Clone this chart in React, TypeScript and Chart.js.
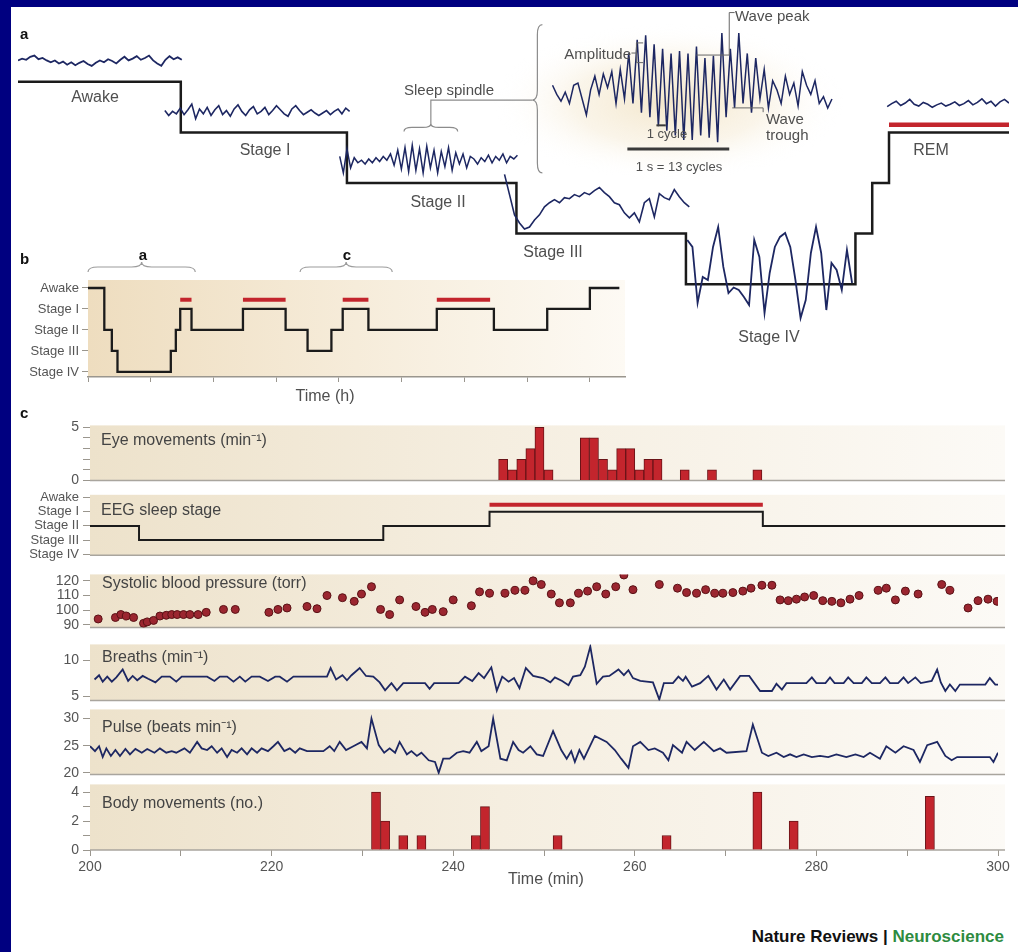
import React, { useEffect, useRef } from "react";
import { Chart, registerables } from "chart.js";

Chart.register(...registerables);

const FONT = "'Liberation Sans', Arial, Helvetica, sans-serif";
Chart.defaults.font.family = FONT;

const TRACE = "#1d2762";
const RED = "#c3252d";
const RED_EDGE = "#6a1418";
const LINE_BLACK = "#1b1b1b";
const SEP = "#a9a59e";
const TICK_TXT = "#555555";

/* ---------------- panel a : hypnogram with EEG traces (arbitrary time units) ---------------- */
const aStepStarts = [0, 9.7, 19.6, 29.7, 39.8, 49.9, 50.9, 51.9, 59.05];
const aStepLevels = [0, 1, 2, 3, 4, 3, 2, 1, 1];
const aRemSpan = [51.9, 59.05];
const aRemLevel = 0.85;

const awakeTrace = [0.2, 0.5, 0.3, 0.8, 1.0, 0.4, 0.6, 0.2, -0.1, 0.2, -0.3, 0.0, -0.5, -0.1, -0.6, -0.2, 0.1, -0.4, -0.7, -0.2, 0.2, -0.1, 0.4, 0.1, -0.3, 0.3, 0.8, 0.2, 0.5, 0.9, 0.3, 0.6, 1.0, 0.2, -0.3, -0.7, 0.3, 0.9, 0.4, 0.7, 0.3];
const stage1Trace = [0.2, -0.4, 0.1, -0.2, 0.5, -0.3, 0.3, 1.0, -0.8, 0.4, -0.2, 0.6, -0.4, 0.3, 0.8, -0.3, 0.2, -0.5, 0.4, 0.9, 0.1, -0.4, 0.3, 0.7, -0.2, 0.1, 0.6, -0.3, 0.2, 0.8, 0.3, -0.2, -0.5, 0.4, 0.8, 0.2, -0.3, 0.0, 0.3, -0.1, -0.4, -0.1, 0.2, -0.3, 0.1, 0.4, -0.2, 0.5, 0.1];
const stage2Trace = [0.3, -1.0, 0.9, -0.6, 0.2, -0.2, 0.0, -0.3, 0.1, -0.2, 0.2, -0.1, 0.3, 0.0, 0.5, -0.4, 0.8, -0.7, 1.0, -0.9, 1.2, -0.8, 0.9, -1.0, 1.1, -0.6, 0.8, -1.0, 0.7, -0.5, 1.0, -0.8, 0.6, -0.3, 0.5, -0.6, 0.3, 0.1, -0.3, 0.2, -0.1, 0.4, -0.2, 0.3, 0.0, 0.5, -0.2, 0.3, 0.1, 0.4];
const stage3Trace = [1.5, 0.5, -0.5, -0.9, -1.2, -1.1, -0.75, -0.5, -0.1, 0.1, 0.25, 0.1, 0.35, 0.3, 0.5, 0.4, 0.6, 0.5, 0.7, 0.85, 0.6, 0.4, 0.1, 0.0, -0.4, -0.65, -0.4, -0.85, 0.1, 0.3, -0.6, 0.55, 0.35, 0.25, 0.75, 0.4, 0.1, -0.1];
const stage4Trace = [0.6, 0.46, -0.66, -0.14, -0.2, 0.46, 0.86, 0.06, -0.46, -0.35, -0.4, -0.54, -0.7, 0.6, 0.26, -0.86, -0.06, 0.46, 0.66, 0.74, 0.46, -0.2, -0.96, -0.6, 0.34, 0.86, 0.34, -0.8, 0.14, 0.0, -0.4, 0.4, -0.26];
const remTrace = [-0.3, 0.2, 0.6, -0.1, 0.3, 0.9, 0.1, -0.2, 0.4, 0.1, -0.4, 0.0, 0.3, -0.2, 0.1, 0.5, -0.1, 0.2, 0.7, 0.0, 0.4, 1.0, 0.2, 0.6, -0.2, 0.5, 0.9, 0.3];
const spindleTrace = [0.1, -0.1, -0.25, -0.05, -0.3, 0.1, 0.15, -0.2, -0.55, 0.0, 0.3, -0.1, 0.35, 0.05, 0.4, -0.3, 0.45, -0.2, 0.8, -0.3, 1.1, -0.5, 1.2, -0.6, 1.0, -0.8, 0.9, -0.9, 0.8, -1.0, 0.85, -1.1, 0.8, -1.1, 0.95, -1.0, 0.7, -1.05, 0.75, -1.15, 1.25, -0.6, 0.9, -0.4, 1.25, -0.3, 0.8, -0.5, 0.7, -0.2, 0.45, -0.4, 0.2, 0.0, -0.3, 0.3, -0.1, 0.15, -0.35, 0.4, 0.1, -0.1, 0.2, -0.3, -0.15, -0.4, -0.2];

/* ---------------- panel b : whole-night hypnogram (hours) ---------------- */
const bStepStarts = [0, 0.26, 0.38, 0.47, 1.32, 1.4, 1.47, 1.65, 2.47, 3.15, 3.5, 3.88, 4.06, 4.47, 5.56, 6.47, 7.32, 8.0, 8.47];
const bStepLevels = [0, 2, 3, 4, 3, 2, 1, 2, 1, 2, 3, 2, 1, 2, 1, 2, 1, 0, 0];
const bRemStarts = [1.47, 2.47, 4.06, 5.56];
const bRemEnds = [1.65, 3.15, 4.47, 6.41];
const bRemLevel = 0.56;
const bHourTicks = [0, 1, 2, 3, 4, 5, 6, 7, 8];

/* ---------------- panel c : 200-300 min ---------------- */
const stageNames = ["Awake", "Stage I", "Stage II", "Stage III", "Stage IV"];
const minuteTicks = [200, 210, 220, 230, 240, 250, 260, 270, 280, 290, 300];

const eyeTimes = [245.5, 246.5, 247.5, 248.5, 249.5, 250.5, 254.5, 255.5, 256.5, 257.5, 258.5, 259.5, 260.5, 261.5, 262.5, 265.5, 268.5, 273.5];
const eyeCounts = [2, 1, 2, 3, 5, 1, 4, 4, 2, 1, 3, 3, 1, 2, 2, 1, 1, 1];
const eyeTicks = [0, 1, 2, 3, 4, 5];

const eegStarts = [200, 205.4, 232.3, 244.0, 274.1, 300.8];
const eegLevels = [2, 3, 2, 1, 2, 2];
const eegRemSpan = [244.0, 274.1];
const eegRemLevel = 0.5;
const eegTicks = [0, 1, 2, 3, 4];

const bpSeries = [
  [200.9, 94], [202.8, 95], [203.4, 97], [204.0, 96], [204.8, 95], [205.9, 91], [206.3, 92], [207.0, 93], [207.7, 96],
  [208.4, 96.5], [209.0, 97], [209.6, 97], [210.3, 97], [211.0, 97], [211.9, 97], [212.8, 98.5], [214.7, 100.5], [216.0, 100.5],
  [219.7, 98.5], [220.7, 100.5], [221.7, 101.5], [223.9, 102.5], [225.0, 101], [226.1, 110], [227.8, 108.5], [229.1, 106],
  [229.9, 111], [231.0, 116], [232.0, 100.5], [233.0, 97], [234.1, 107], [235.9, 102.5], [236.9, 98.5], [237.7, 100.5],
  [238.9, 99], [240.0, 107], [242.0, 103], [242.9, 112.5], [244.0, 111.5], [245.7, 111.5], [246.8, 113.5], [247.9, 113.5],
  [248.8, 120], [249.7, 117.5], [250.8, 111], [251.7, 105], [252.9, 105], [253.8, 111.5], [254.8, 113], [255.8, 116],
  [256.8, 111], [257.9, 116], [258.8, 124], [259.8, 114], [262.7, 117.5], [264.7, 115], [265.7, 112], [266.8, 111.5],
  [267.8, 114], [268.8, 111.5], [269.7, 111.5], [270.8, 112], [271.9, 113], [272.8, 115], [274.0, 117], [275.1, 117],
  [276.0, 107], [276.9, 106.5], [277.8, 107.5], [278.7, 109], [279.7, 110], [280.7, 106.5], [281.7, 106], [282.7, 105],
  [283.7, 107.5], [284.7, 110], [286.8, 113.5], [287.7, 115], [288.7, 107], [289.8, 113], [291.2, 111], [293.8, 117.5],
  [294.7, 113.5], [296.7, 101.5], [297.8, 106.5], [298.9, 107.5], [299.9, 106],
];
const bpTicks = [90, 100, 110, 120];

const breathSeries = [
  [200.5, 7.3], [201.0, 7.9], [201.4, 7.0], [201.9, 7.7], [202.4, 7.0], [202.9, 7.6], [203.6, 8.7], [204.2, 7.1], [204.7, 7.8],
  [205.2, 7.2], [205.8, 7.8], [206.4, 7.4], [207.2, 6.9], [207.9, 7.7], [208.8, 7.7], [209.5, 7.0], [210.1, 7.7], [212.9, 7.7],
  [213.7, 7.1], [214.3, 7.7], [215.1, 7.7], [215.8, 7.0], [216.5, 7.7], [217.1, 7.0], [217.8, 7.7], [218.7, 7.7], [219.6, 7.1],
  [220.4, 7.7], [220.9, 7.7], [221.7, 7.0], [222.4, 7.7], [226.1, 7.7], [226.5, 8.9], [227.1, 7.3], [227.8, 7.9], [228.3, 7.2],
  [228.8, 7.9], [229.7, 8.9], [230.4, 7.8], [231.2, 7.7], [231.9, 6.9], [232.5, 5.8], [233.2, 6.8], [233.8, 5.8], [234.5, 6.8],
  [236.9, 6.8], [237.4, 6.0], [237.9, 6.8], [240.6, 6.8], [241.3, 7.7], [242.1, 7.1], [242.8, 8.2], [243.4, 7.5], [244.2, 9.0],
  [244.8, 5.75], [245.4, 7.7], [246.1, 7.0], [246.7, 7.5], [247.3, 6.1], [248.0, 8.9], [248.8, 7.8], [249.9, 7.5], [250.7, 6.9],
  [251.2, 7.6], [252.0, 7.1], [252.7, 6.5], [253.2, 7.7], [254.0, 7.9], [254.5, 9.1], [255.1, 11.9], [255.8, 6.7], [256.5, 7.7],
  [257.2, 7.8], [258.2, 8.7], [258.8, 7.9], [259.3, 8.6], [259.8, 7.5], [260.6, 7.1], [261.3, 7.0], [262.0, 6.9], [262.7, 4.5],
  [263.2, 6.8], [264.2, 6.8], [264.8, 7.7], [265.3, 7.1], [265.6, 7.7], [266.3, 6.3], [267.2, 6.8], [268.1, 7.8], [269.0, 5.9],
  [269.8, 7.3], [270.5, 5.9], [271.6, 7.8], [272.6, 7.8], [273.8, 5.7], [275.1, 5.7], [275.6, 6.7], [276.2, 5.9], [276.7, 6.8],
  [278.9, 6.8], [279.5, 7.6], [280.0, 6.8], [281.0, 6.8], [281.5, 7.6], [282.0, 6.8], [283.0, 6.8], [283.5, 7.6], [284.1, 6.8],
  [285.0, 6.8], [285.5, 7.6], [286.1, 6.8], [287.0, 6.8], [287.6, 7.6], [288.1, 6.8], [289.0, 6.8], [289.6, 7.6], [290.1, 6.8],
  [290.9, 7.6], [291.5, 6.8], [292.7, 7.1], [293.3, 8.7], [293.7, 6.9], [294.2, 5.7], [294.7, 6.6], [295.3, 5.7], [295.8, 6.6],
  [298.6, 6.6], [299.1, 7.5], [299.7, 6.6], [300.0, 6.6],
];
const breathTicks = [5, 10];

const pulseSeries = [
  [200.0, 24.9], [200.55, 24.0], [201.0, 24.9], [201.4, 22.9], [201.8, 24.5], [202.3, 23.1], [202.8, 24.2], [203.3, 23.1],
  [203.9, 24.4], [204.4, 23.4], [205.0, 24.4], [205.7, 23.7], [206.3, 24.4], [207.1, 23.7], [207.7, 24.5], [208.4, 23.7],
  [209.0, 24.0], [209.5, 23.7], [210.4, 24.5], [211.0, 23.7], [211.8, 25.7], [212.3, 24.5], [212.9, 24.2], [213.4, 24.9],
  [214.0, 23.7], [214.5, 24.5], [215.1, 22.9], [215.6, 24.2], [216.2, 23.7], [216.7, 24.5], [217.3, 23.4], [217.8, 24.5],
  [218.4, 23.7], [218.9, 24.5], [219.6, 24.0], [220.2, 24.9], [220.7, 25.7], [221.4, 24.0], [222.0, 24.5], [222.6, 23.7],
  [223.1, 24.5], [223.9, 24.0], [225.7, 24.0], [226.4, 24.9], [226.9, 24.0], [227.5, 25.7], [228.2, 24.2], [229.0, 24.9],
  [229.9, 25.7], [230.5, 24.5], [231.0, 30.0], [231.8, 25.1], [232.4, 23.7], [233.0, 24.5], [233.6, 23.7], [234.1, 25.7],
  [234.9, 23.4], [235.4, 24.0], [236.0, 23.1], [236.5, 23.7], [237.3, 22.3], [238.0, 22.0], [238.4, 20.0], [238.9, 22.6],
  [239.6, 22.6], [240.4, 23.7], [241.1, 24.0], [241.8, 23.7], [242.6, 25.7], [243.1, 24.0], [243.9, 24.9], [244.4, 30.0],
  [245.2, 22.6], [245.9, 22.3], [246.6, 25.7], [247.2, 24.2], [247.7, 23.7], [248.5, 24.9], [249.2, 23.4], [249.9, 23.1],
  [251.0, 27.7], [251.9, 24.2], [252.5, 22.6], [253.0, 24.0], [253.4, 22.0], [253.9, 24.2], [254.4, 22.6], [255.6, 26.8],
  [256.9, 25.7], [257.8, 24.2], [258.5, 22.6], [259.3, 20.9], [259.8, 24.9], [260.6, 25.7], [261.5, 24.2], [262.2, 24.5],
  [263.1, 23.7], [263.7, 22.3], [264.2, 25.1], [265.2, 23.7], [265.7, 25.7], [266.6, 24.2], [267.6, 25.7], [268.7, 24.0],
  [269.4, 24.5], [270.1, 23.7], [272.3, 24.0], [273.0, 28.9], [274.0, 23.7], [274.7, 23.1], [275.6, 23.7], [276.4, 22.9],
  [277.1, 23.4], [277.8, 22.9], [278.6, 23.4], [279.5, 22.9], [280.4, 23.1], [281.3, 22.9], [282.2, 23.4], [283.3, 22.9],
  [284.3, 23.4], [285.2, 22.9], [285.9, 23.7], [287.0, 22.6], [287.7, 24.9], [288.7, 23.7], [289.6, 24.9], [290.7, 24.2],
  [291.4, 22.0], [292.2, 25.1], [293.3, 25.7], [294.2, 23.1], [294.9, 22.3], [295.5, 22.9], [299.1, 22.9], [299.5, 22.0],
  [300.0, 23.7],
];
const pulseTicks = [20, 25, 30];

const bodyTimes = [231.5, 232.5, 234.5, 236.5, 242.5, 243.5, 251.5, 263.5, 273.5, 277.5, 292.5];
const bodyCounts = [4, 2, 1, 1, 1, 3, 1, 1, 4, 2, 3.7];
const bodyTicks = [0, 1, 2, 3, 4];

/* ---------------- helpers ---------------- */
function hBrace(ctx: any, x1: number, x2: number, y: number, h: number) {
  const xm = (x1 + x2) / 2;
  const r = Math.min(h, (x2 - x1) / 4);
  ctx.beginPath();
  ctx.moveTo(x1, y);
  ctx.quadraticCurveTo(x1, y - h / 2, x1 + r, y - h / 2);
  ctx.lineTo(xm - r, y - h / 2);
  ctx.quadraticCurveTo(xm, y - h / 2, xm, y - h);
  ctx.quadraticCurveTo(xm, y - h / 2, xm + r, y - h / 2);
  ctx.lineTo(x2 - r, y - h / 2);
  ctx.quadraticCurveTo(x2, y - h / 2, x2, y);
  ctx.stroke();
}

function vBrace(ctx: any, xTip: number, w: number, y1: number, y2: number, yTip: number) {
  const xs = xTip + w / 2;
  const xa = xTip + w;
  ctx.beginPath();
  ctx.moveTo(xa, y1);
  ctx.quadraticCurveTo(xs, y1, xs, y1 + w);
  ctx.lineTo(xs, yTip - w);
  ctx.quadraticCurveTo(xs, yTip, xTip, yTip);
  ctx.quadraticCurveTo(xs, yTip, xs, yTip + w);
  ctx.lineTo(xs, y2 - w);
  ctx.quadraticCurveTo(xs, y2, xa, y2);
  ctx.stroke();
}

function poly(ctx: any, pts: number[][]) {
  ctx.beginPath();
  pts.forEach((p, i) => (i === 0 ? ctx.moveTo(p[0], p[1]) : ctx.lineTo(p[0], p[1])));
  ctx.stroke();
}

const baseOptions = {
  animation: false,
  responsive: false,
  events: [],
  plugins: { legend: { display: false }, tooltip: { enabled: false } },
};

/* ---------------- panel a config ---------------- */
const panelAPlugin = {
  id: "panelADecor",
  beforeDatasetsDraw(chart: any) {
    const { ctx } = chart;
    const X = (u: number) => chart.scales.x.getPixelForValue(u);
    const Y = (l: number) => chart.scales.y.getPixelForValue(l);
    ctx.save();
    ctx.beginPath();
    ctx.rect(12, 9, chart.width - 12, chart.height - 9);
    ctx.clip();
    ctx.translate(X(38.8), Y(0.4));
    ctx.scale(1.75, 0.78);
    const g = ctx.createRadialGradient(0, 0, 0, 0, 0, 100);
    g.addColorStop(0, "rgba(242,228,198,0.9)");
    g.addColorStop(0.55, "rgba(247,238,219,0.6)");
    g.addColorStop(1, "rgba(255,255,255,0)");
    ctx.fillStyle = g;
    ctx.beginPath();
    ctx.arc(0, 0, 100, 0, Math.PI * 2);
    ctx.fill();
    ctx.restore();
  },
  afterDatasetsDraw(chart: any) {
    const { ctx } = chart;
    const X = (u: number) => chart.scales.x.getPixelForValue(u);
    const Y = (l: number) => chart.scales.y.getPixelForValue(l);
    ctx.save();
    ctx.strokeStyle = "#8c8c8c";
    ctx.lineWidth = 1.2;
    hBrace(ctx, X(23.0), X(26.2), Y(0.98), 8);
    poly(ctx, [[X(24.6), Y(0.83)], [X(24.6), Y(0.36)], [X(30.65), Y(0.36)]]);
    vBrace(ctx, X(30.65), 10, Y(-1.13), Y(1.8), Y(0.36));
    ctx.strokeStyle = "#666";
    ctx.lineWidth = 1;
    poly(ctx, [[X(36.55), Y(-0.57)], [X(36.85), Y(-0.57)]]);
    poly(ctx, [[X(37.25), Y(-0.77)], [X(36.85), Y(-0.77)], [X(36.85), Y(-0.38)], [X(37.25), Y(-0.38)]]);
    poly(ctx, [[X(40.42), Y(-0.53)], [X(42.38), Y(-0.53)], [X(42.38), Y(-1.37)], [X(42.7), Y(-1.37)]]);
    poly(ctx, [[X(42.56), Y(0.515)], [X(44.4), Y(0.515)], [X(44.4), Y(0.6)]]);
    ctx.strokeStyle = "#3a3a3a";
    ctx.lineWidth = 2;
    poly(ctx, [[X(38.04), Y(0.86)], [X(38.6), Y(0.86)]]);
    ctx.lineWidth = 3;
    poly(ctx, [[X(36.31), Y(1.33)], [X(42.38), Y(1.33)]]);
    ctx.restore();
  },
};

function traceDataset(values: number[], start: number, end: number, center: number, amp: number, width: number) {
  return {
    data: values.map((v, i) => ({ x: start + ((end - start) * i) / (values.length - 1), y: center - v * amp })),
    borderColor: TRACE,
    borderWidth: width,
    pointRadius: 0,
    tension: 0,
  };
}

function panelAConfig() {
  return {
    type: "line",
    data: {
      datasets: [
        traceDataset(awakeTrace, 0, 9.76, -0.4, 0.12, 1.8),
        traceDataset(stage1Trace, 8.75, 19.76, 0.6, 0.16, 1.6),
        traceDataset(stage2Trace, 19.17, 29.76, 1.55, 0.25, 1.5),
        traceDataset(stage3Trace, 28.99, 40.0, 2.43, 0.4, 1.6),
        traceDataset(stage4Trace, 39.88, 49.7, 3.72, 0.99, 1.8),
        traceDataset(remTrace, 51.79, 59.05, 0.455, 0.12, 1.6),
        traceDataset(spindleTrace, 31.85, 48.5, 0.158, 0.9, 1.5),
        {
          data: aStepStarts.map((x, i) => ({ x, y: aStepLevels[i] })),
          stepped: true,
          borderColor: LINE_BLACK,
          borderWidth: 2.5,
          pointRadius: 0,
        },
        {
          data: [{ x: aRemSpan[0], y: aRemLevel }, { x: aRemSpan[1], y: aRemLevel }],
          borderColor: RED,
          borderWidth: 4.5,
          pointRadius: 0,
        },
      ],
    },
    options: {
      ...baseOptions,
      layout: { padding: { left: 18, right: 9, top: 6, bottom: 0 } },
      scales: {
        x: { type: "linear", display: false, min: 0, max: 59.05 },
        y: { type: "linear", display: false, min: -1.5, max: 5.5, reverse: true },
      },
    },
    plugins: [panelAPlugin],
  };
}

/* ---------------- panel b config ---------------- */
const panelBPlugin = {
  id: "panelBDecor",
  beforeDraw(chart: any) {
    const { ctx, chartArea: a } = chart;
    const g = ctx.createLinearGradient(a.left, 0, a.right, 0);
    g.addColorStop(0, "rgb(238,221,191)");
    g.addColorStop(0.5, "rgb(246,236,218)");
    g.addColorStop(1, "rgb(253,250,244)");
    ctx.save();
    ctx.fillStyle = g;
    ctx.fillRect(a.left, a.top, a.right - a.left, a.bottom - a.top);
    ctx.restore();
  },
  afterDraw(chart: any) {
    const { ctx, chartArea: a } = chart;
    const X = (u: number) => chart.scales.x.getPixelForValue(u);
    ctx.save();
    ctx.strokeStyle = "#9c9c9c";
    ctx.lineWidth = 1.2;
    hBrace(ctx, X(0.0), X(1.71), a.top - 8, 10);
    hBrace(ctx, X(3.38), X(4.85), a.top - 8, 10);
    ctx.restore();
  },
};

function panelBConfig() {
  const remSets = bRemStarts.map((s, i) => ({
    data: [{ x: s, y: bRemLevel }, { x: bRemEnds[i], y: bRemLevel }],
    borderColor: RED,
    borderWidth: 4,
    pointRadius: 0,
  }));
  return {
    type: "line",
    data: {
      datasets: [
        {
          data: bStepStarts.map((x, i) => ({ x, y: bStepLevels[i] })),
          stepped: true,
          borderColor: LINE_BLACK,
          borderWidth: 2.3,
          pointRadius: 0,
        },
        ...remSets,
      ],
    },
    options: {
      ...baseOptions,
      layout: { padding: { left: 0, right: 15, top: 30, bottom: 0 } },
      scales: {
        x: {
          type: "linear", min: 0, max: 8.56, bounds: "data",
          afterFit: (s: any) => { s.height = 23; },
          afterBuildTicks: (s: any) => { s.ticks = bHourTicks.map((v) => ({ value: v })); },
          ticks: { display: false },
          grid: { display: true, drawOnChartArea: false, drawTicks: true, tickLength: 5, color: "#9a968e" },
          border: { display: true, color: "#9a968e", width: 1.5 },
        },
        y: {
          type: "linear", min: -0.38, max: 4.24, reverse: true, bounds: "data",
          afterFit: (s: any) => { s.width = 88; },
          afterBuildTicks: (s: any) => { s.ticks = eegTicks.map((v) => ({ value: v })); },
          ticks: { callback: (v: any) => stageNames[Math.round(v)], autoSkip: false, color: TICK_TXT, font: { size: 13 }, padding: 3 },
          grid: { display: true, drawOnChartArea: false, drawTicks: true, tickLength: 6, color: "#9a968e" },
          border: { display: false },
        },
      },
    },
    plugins: [panelBPlugin],
  };
}

/* ---------------- panel c strips ---------------- */
const stripBg = {
  id: "stripBg",
  beforeDraw(chart: any) {
    const { ctx, chartArea: a } = chart;
    const right = a.right + 7;
    const g = ctx.createLinearGradient(a.left, 0, right, 0);
    g.addColorStop(0, "rgb(237,226,203)");
    g.addColorStop(0.45, "rgb(245,238,224)");
    g.addColorStop(1, "rgb(252,250,246)");
    ctx.save();
    ctx.fillStyle = g;
    ctx.fillRect(a.left, a.top, right - a.left, a.bottom - a.top);
    ctx.restore();
  },
  beforeDatasetsDraw(chart: any) {
    const { ctx, chartArea: a } = chart;
    ctx.save();
    ctx.strokeStyle = SEP;
    ctx.lineWidth = 1.5;
    ctx.beginPath();
    ctx.moveTo(a.left, a.bottom);
    ctx.lineTo(a.right + 7, a.bottom);
    ctx.stroke();
    ctx.restore();
  },
};

function stripConfig(s: any) {
  const xScale: any = {
    type: "linear", min: 200, max: 300, offset: false, bounds: "data", display: !!s.xAxis,
    afterBuildTicks: (sc: any) => { sc.ticks = minuteTicks.map((v) => ({ value: v })); },
    ticks: { callback: (v: any) => (v % 20 === 0 ? String(v) : ""), autoSkip: false, maxRotation: 0, color: TICK_TXT, font: { size: 14 }, padding: 3 },
    grid: { display: true, drawOnChartArea: false, drawTicks: true, tickLength: 6, color: "#9a968e", offset: false },
    border: { display: false },
  };
  if (s.xAxis) xScale.afterFit = (sc: any) => { sc.height = 30; };
  return {
    type: s.type,
    data: { datasets: s.datasets },
    options: {
      ...baseOptions,
      layout: { padding: { left: 0, right: 20, top: s.padTop, bottom: s.padBottom } },
      scales: {
        x: xScale,
        y: {
          type: "linear", min: s.yMin, max: s.yMax, reverse: !!s.reverse, bounds: "data",
          afterFit: (sc: any) => { sc.width = 90; },
          afterBuildTicks: (sc: any) => { sc.ticks = s.yTicks.map((v: number) => ({ value: v })); },
          ticks: { callback: (v: any) => s.yLabel(v), autoSkip: false, color: TICK_TXT, font: { size: s.yFont || 14 }, padding: 4 },
          grid: { display: true, drawOnChartArea: false, drawTicks: true, tickLength: 7, color: "#9a968e" },
          border: { display: false },
        },
      },
    },
    plugins: [stripBg],
  };
}

const barStyle = {
  backgroundColor: RED,
  borderColor: RED_EDGE,
  borderWidth: 1,
  barPercentage: 1,
  categoryPercentage: 1,
};

const strips = [
  {
    key: "eye", top: 413, height: 80, padTop: 10, padBottom: 10, type: "bar",
    yMin: 0, yMax: 5.17, yTicks: eyeTicks, yLabel: (v: number) => (v === 0 || v === 5 ? String(v) : ""),
    datasets: [{ data: eyeTimes.map((t, i) => ({ x: t, y: eyeCounts[i] })), ...barStyle }],
  },
  {
    key: "eeg", top: 483, height: 84, padTop: 10, padBottom: 10, type: "line", reverse: true, yFont: 13,
    yMin: -0.2, yMax: 4.07, yTicks: eegTicks, yLabel: (v: number) => stageNames[Math.round(v)],
    datasets: [
      { data: eegStarts.map((x, i) => ({ x, y: eegLevels[i] })), stepped: true, borderColor: LINE_BLACK, borderWidth: 2, pointRadius: 0, clip: 10 },
      { data: [{ x: eegRemSpan[0], y: eegRemLevel }, { x: eegRemSpan[1], y: eegRemLevel }], borderColor: RED, borderWidth: 4, pointRadius: 0 },
    ],
  },
  {
    key: "bp", top: 562, height: 78, padTop: 10, padBottom: 10, type: "scatter",
    yMin: 88.1, yMax: 124.4, yTicks: bpTicks, yLabel: (v: number) => String(v),
    datasets: [{ data: bpSeries.map((p) => ({ x: p[0], y: p[1] })), pointRadius: 4, backgroundColor: "#9b2630", borderColor: "#5a1216", borderWidth: 1 }],
  },
  {
    key: "breaths", top: 632, height: 81, padTop: 10, padBottom: 10, type: "line",
    yMin: 4.36, yMax: 12.2, yTicks: breathTicks, yLabel: (v: number) => String(v),
    datasets: [{ data: breathSeries.map((p) => ({ x: p[0], y: p[1] })), borderColor: TRACE, borderWidth: 1.8, pointRadius: 0, tension: 0 }],
  },
  {
    key: "pulse", top: 697, height: 90, padTop: 10, padBottom: 10, type: "line",
    yMin: 19.66, yMax: 31.7, yTicks: pulseTicks, yLabel: (v: number) => String(v),
    datasets: [{ data: pulseSeries.map((p) => ({ x: p[0], y: p[1] })), borderColor: TRACE, borderWidth: 1.8, pointRadius: 0, tension: 0 }],
  },
  {
    key: "body", top: 772, height: 108, padTop: 10, padBottom: 0, type: "bar", xAxis: true,
    yMin: 0, yMax: 4.53, yTicks: bodyTicks, yLabel: (v: number) => (v % 2 === 0 ? String(v) : ""),
    datasets: [{ data: bodyTimes.map((t, i) => ({ x: t, y: bodyCounts[i] })), ...barStyle }],
  },
];

/* ---------------- components ---------------- */
function ChartCanvas({ left, top, width, height, build }: any) {
  const ref = useRef<HTMLCanvasElement>(null);
  useEffect(() => {
    const chart = new Chart(ref.current as HTMLCanvasElement, build() as any);
    return () => chart.destroy();
  }, []);
  return (
    <div style={{ position: "absolute", left, top, width, height }}>
      <canvas ref={ref} width={width} height={height} style={{ display: "block", width, height }} />
    </div>
  );
}

function T({ x, y, children, align = "c", size = 16, bold = false, color = "#4f4f4f" }: any) {
  const tx = align === "c" ? "-50%" : align === "r" ? "-100%" : "0";
  return (
    <div
      style={{
        position: "absolute", left: x, top: y, transform: `translate(${tx}, -50%)`,
        fontFamily: FONT, fontSize: size, fontWeight: bold ? 700 : 400, color,
        whiteSpace: "nowrap", lineHeight: 1,
      }}
    >
      {children}
    </div>
  );
}

export default function App() {
  return (
    <div style={{ position: "absolute", left: 0, top: 0, width: 1018, height: 952, background: "#000080", overflow: "hidden" }}>
      <div style={{ position: "absolute", left: 11, top: 7, width: 1007, height: 945, background: "#ffffff" }} />

      <ChartCanvas left={0} top={0} width={1018} height={360} build={panelAConfig} />
      <ChartCanvas left={0} top={250} width={640} height={150} build={panelBConfig} />
      {strips.map((s) => (
        <ChartCanvas key={s.key} left={0} top={s.top} width={1018} height={s.height} build={() => stripConfig(s)} />
      ))}

      {/* panel a text */}
      <T x={20} y={33} align="l" bold size={15} color="#111">a</T>
      <T x={95} y={97}>Awake</T>
      <T x={265} y={150}>Stage I</T>
      <T x={438} y={202}>Stage II</T>
      <T x={553} y={252}>Stage III</T>
      <T x={769} y={337}>Stage IV</T>
      <T x={931} y={150}>REM</T>
      <T x={449} y={89} size={15}>Sleep spindle</T>
      <T x={631} y={53} align="r" size={15}>Amplitude</T>
      <T x={735} y={15} align="l" size={15}>Wave peak</T>
      <T x={766} y={118} align="l" size={15}>Wave</T>
      <T x={766} y={134} align="l" size={15}>trough</T>
      <T x={667} y={133} size={13}>1 cycle</T>
      <T x={679} y={166} size={13}>1 s = 13 cycles</T>

      {/* panel b text */}
      <T x={20} y={258} align="l" bold size={15} color="#111">b</T>
      <T x={143} y={254} bold size={15} color="#111">a</T>
      <T x={347} y={254} bold size={15} color="#111">c</T>
      <T x={325} y={396}>Time (h)</T>

      {/* panel c text */}
      <T x={20} y={412} align="l" bold size={15} color="#111">c</T>
      <T x={101} y={440} align="l" color="#444">Eye movements (min⁻¹)</T>
      <T x={101} y={510} align="l" color="#444">EEG sleep stage</T>
      <T x={102} y={583} align="l" color="#444">Systolic blood pressure (torr)</T>
      <T x={102} y={657} align="l" color="#444">Breaths (min⁻¹)</T>
      <T x={102} y={727} align="l" color="#444">Pulse (beats min⁻¹)</T>
      <T x={102} y={803} align="l" color="#444">Body movements (no.)</T>
      <T x={546} y={879}>Time (min)</T>

      <div
        style={{
          position: "absolute", right: 14, top: 936, transform: "translateY(-50%)",
          fontFamily: FONT, fontSize: 17, fontWeight: 700, whiteSpace: "nowrap", lineHeight: 1,
        }}
      >
        <span style={{ color: "#111" }}>Nature Reviews | </span>
        <span style={{ color: "#2e8b40" }}>Neuroscience</span>
      </div>
    </div>
  );
}
